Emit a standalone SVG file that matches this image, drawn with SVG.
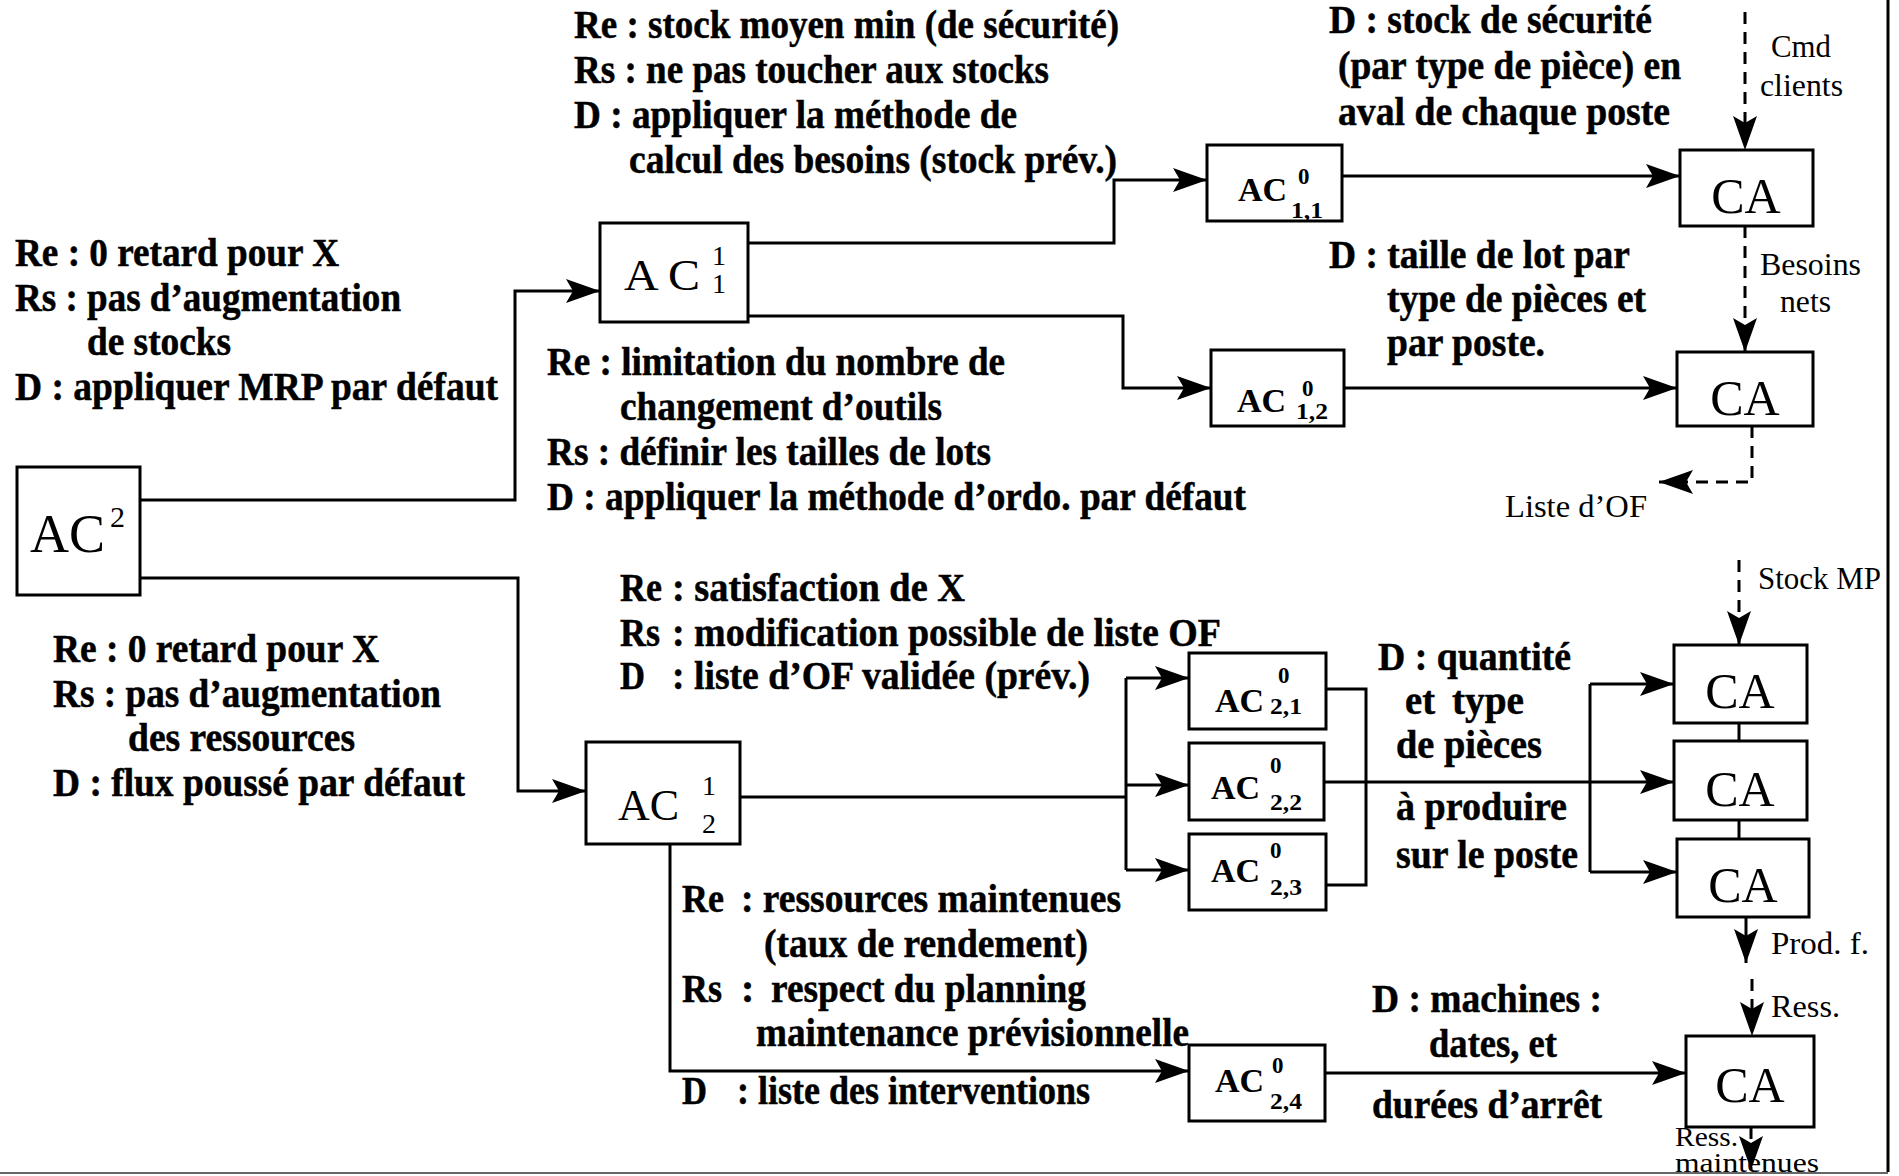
<svg xmlns="http://www.w3.org/2000/svg" width="1899" height="1176" viewBox="0 0 1899 1176">
<style>
.b{font-family:"Liberation Serif","Times New Roman",serif;font-weight:bold;font-size:40px;fill:#000;stroke:#000;stroke-width:0.5}
.r{font-family:"Liberation Serif","Times New Roman",serif;font-size:32px;fill:#000}
.box{fill:#fff;stroke:#000;stroke-width:3}
.ln{fill:none;stroke:#000;stroke-width:3}
.dash{stroke-dasharray:12 8}
.big{font-family:"Liberation Serif","Times New Roman",serif;font-size:50px;fill:#000}
.sm{font-family:"Liberation Serif","Times New Roman",serif;font-weight:bold;font-size:34px;fill:#000}
.idx{font-family:"Liberation Serif","Times New Roman",serif;font-weight:bold;font-size:23px;fill:#000}
</style>
<defs>
<marker id="ar" markerUnits="userSpaceOnUse" viewBox="0 0 34 24" refX="34" refY="12" markerWidth="34" markerHeight="24" orient="auto">
<path d="M0,0 L34,12 L0,24 L7,12 z" fill="#000"/>
</marker>
</defs>
<rect width="1899" height="1176" fill="#fff"/>
<line x1="1888" y1="0" x2="1888" y2="1172" stroke="#000" stroke-width="3"/>
<line x1="0" y1="1173" x2="1888" y2="1173" stroke="#666" stroke-width="2"/>

<g id="connectors">
<polyline class="ln" points="140,500 515,500 515,291 600,291" marker-end="url(#ar)"/>
<polyline class="ln" points="140,578 518,578 518,791 586,791" marker-end="url(#ar)"/>
<polyline class="ln" points="748,243 1114,243 1114,180 1207,180" marker-end="url(#ar)"/>
<polyline class="ln" points="748,316 1123,316 1123,388 1211,388" marker-end="url(#ar)"/>
<line class="ln" x1="1342" y1="176" x2="1680" y2="176" marker-end="url(#ar)"/>
<line class="ln" x1="1344" y1="388" x2="1677" y2="388" marker-end="url(#ar)"/>
<line class="ln" x1="740" y1="797" x2="1126" y2="797"/>
<line class="ln" x1="1126" y1="678" x2="1126" y2="870"/>
<line class="ln" x1="1126" y1="678" x2="1189" y2="678" marker-end="url(#ar)"/>
<line class="ln" x1="1126" y1="785" x2="1189" y2="785" marker-end="url(#ar)"/>
<line class="ln" x1="1126" y1="870" x2="1189" y2="870" marker-end="url(#ar)"/>
<polyline class="ln" points="670,844 670,1071 1189,1071" marker-end="url(#ar)"/>
<polyline class="ln" points="1326,689 1366,689 1366,885 1326,885"/>
<line class="ln" x1="1324" y1="782" x2="1590" y2="782"/>
<line class="ln" x1="1590" y1="684" x2="1590" y2="872"/>
<line class="ln" x1="1590" y1="684" x2="1674" y2="684" marker-end="url(#ar)"/>
<line class="ln" x1="1590" y1="782" x2="1674" y2="782" marker-end="url(#ar)"/>
<line class="ln" x1="1590" y1="872" x2="1677" y2="872" marker-end="url(#ar)"/>
<line class="ln" x1="1739" y1="723" x2="1739" y2="741"/>
<line class="ln" x1="1739" y1="820" x2="1739" y2="839"/>
<line class="ln" x1="1325" y1="1073" x2="1686" y2="1073" marker-end="url(#ar)"/>
<line class="ln dash" x1="1745" y1="12" x2="1745" y2="150" marker-end="url(#ar)"/>
<line class="ln dash" x1="1745" y1="226" x2="1745" y2="352" marker-end="url(#ar)"/>
<polyline class="ln dash" points="1752,426 1752,482 1659,482" marker-end="url(#ar)"/>
<line class="ln dash" x1="1739" y1="560" x2="1739" y2="645" marker-end="url(#ar)"/>
<line class="ln" x1="1746" y1="917" x2="1746" y2="963" marker-end="url(#ar)"/>
<line class="ln dash" x1="1752" y1="979" x2="1752" y2="1036" marker-end="url(#ar)"/>
<line class="ln dash" x1="1751" y1="1127" x2="1751" y2="1170" marker-end="url(#ar)"/>
</g>

<g id="AC2">
<rect class="box" x="17" y="467" width="123" height="128"/>
<text x="30" y="552" style="font-family:'Liberation Serif',serif;font-size:54px">AC</text>
<text x="110" y="527" style="font-family:'Liberation Serif',serif;font-size:30px">2</text>
</g>
<g id="AC11">
<rect class="box" x="600" y="223" width="148" height="99"/>
<text x="624" y="290" style="font-family:'Liberation Serif',serif;font-size:44px" textLength="76" lengthAdjust="spacingAndGlyphs">A C</text>
<text x="712" y="265" style="font-family:'Liberation Serif',serif;font-size:28px">1</text>
<text x="712" y="293" style="font-family:'Liberation Serif',serif;font-size:28px">1</text>
</g>
<g id="AC12">
<rect class="box" x="586" y="742" width="154" height="102"/>
<text x="618" y="820" style="font-family:'Liberation Serif',serif;font-size:44px">AC</text>
<text x="702" y="795" style="font-family:'Liberation Serif',serif;font-size:28px">1</text>
<text x="702" y="833" style="font-family:'Liberation Serif',serif;font-size:28px">2</text>
</g>
<g id="AC0_11">
<rect class="box" x="1207" y="145" width="135" height="76"/>
<text class="sm" x="1238" y="201">AC</text>
<text class="idx" x="1298" y="184">0</text>
<text class="idx" x="1291" y="218" textLength="32" lengthAdjust="spacingAndGlyphs">1,1</text>
</g>
<g id="AC0_12">
<rect class="box" x="1211" y="350" width="133" height="76"/>
<text class="sm" x="1237" y="412">AC</text>
<text class="idx" x="1302" y="396">0</text>
<text class="idx" x="1296" y="419" textLength="32" lengthAdjust="spacingAndGlyphs">1,2</text>
</g>
<g id="AC0_21">
<rect class="box" x="1189" y="653" width="137" height="76"/>
<text class="sm" x="1215" y="712">AC</text>
<text class="idx" x="1278" y="683">0</text>
<text class="idx" x="1270" y="714" textLength="32" lengthAdjust="spacingAndGlyphs">2,1</text>
</g>
<g id="AC0_22">
<rect class="box" x="1189" y="743" width="135" height="77"/>
<text class="sm" x="1211" y="799">AC</text>
<text class="idx" x="1270" y="773">0</text>
<text class="idx" x="1270" y="810" textLength="32" lengthAdjust="spacingAndGlyphs">2,2</text>
</g>
<g id="AC0_23">
<rect class="box" x="1189" y="834" width="137" height="76"/>
<text class="sm" x="1211" y="882">AC</text>
<text class="idx" x="1270" y="858">0</text>
<text class="idx" x="1270" y="895" textLength="32" lengthAdjust="spacingAndGlyphs">2,3</text>
</g>
<g id="AC0_24">
<rect class="box" x="1189" y="1045" width="136" height="76"/>
<text class="sm" x="1215" y="1092">AC</text>
<text class="idx" x="1272" y="1073">0</text>
<text class="idx" x="1270" y="1109" textLength="32" lengthAdjust="spacingAndGlyphs">2,4</text>
</g>
<g id="CA1"><rect class="box" x="1680" y="150" width="133" height="76"/><text class="big" x="1746" y="213" text-anchor="middle">CA</text></g>
<g id="CA2"><rect class="box" x="1677" y="352" width="136" height="74"/><text class="big" x="1745" y="415" text-anchor="middle">CA</text></g>
<g id="CA3"><rect class="box" x="1674" y="645" width="133" height="78"/><text class="big" x="1740" y="708" text-anchor="middle">CA</text></g>
<g id="CA4"><rect class="box" x="1674" y="741" width="133" height="79"/><text class="big" x="1740" y="806" text-anchor="middle">CA</text></g>
<g id="CA5"><rect class="box" x="1677" y="839" width="132" height="78"/><text class="big" x="1743" y="902" text-anchor="middle">CA</text></g>
<g id="CA6"><rect class="box" x="1686" y="1036" width="128" height="91"/><text class="big" x="1750" y="1102" text-anchor="middle">CA</text></g>

<g id="labels">
<text class="b" x="574" y="38" textLength="545" lengthAdjust="spacingAndGlyphs">Re : stock moyen min (de sécurité)</text>
<text class="b" x="574" y="83" textLength="475" lengthAdjust="spacingAndGlyphs">Rs : ne pas toucher aux stocks</text>
<text class="b" x="574" y="128" textLength="443" lengthAdjust="spacingAndGlyphs">D : appliquer la méthode de</text>
<text class="b" x="629" y="173" textLength="488" lengthAdjust="spacingAndGlyphs">calcul des besoins (stock prév.)</text>

<text class="b" x="15" y="266" textLength="324" lengthAdjust="spacingAndGlyphs">Re : 0 retard pour X</text>
<text class="b" x="15" y="311" textLength="386" lengthAdjust="spacingAndGlyphs">Rs : pas d’augmentation</text>
<text class="b" x="87" y="355" textLength="144" lengthAdjust="spacingAndGlyphs">de stocks</text>
<text class="b" x="15" y="400" textLength="483" lengthAdjust="spacingAndGlyphs">D : appliquer MRP par défaut</text>

<text class="b" x="547" y="375" textLength="458" lengthAdjust="spacingAndGlyphs">Re : limitation du nombre de</text>
<text class="b" x="620" y="420" textLength="322" lengthAdjust="spacingAndGlyphs">changement d’outils</text>
<text class="b" x="547" y="465" textLength="444" lengthAdjust="spacingAndGlyphs">Rs : définir les tailles de lots</text>
<text class="b" x="547" y="510" textLength="699" lengthAdjust="spacingAndGlyphs">D : appliquer la méthode d’ordo. par défaut</text>

<text class="b" x="1329" y="33" textLength="323" lengthAdjust="spacingAndGlyphs">D : stock de sécurité</text>
<text class="b" x="1338" y="79" textLength="343" lengthAdjust="spacingAndGlyphs">(par type de pièce) en</text>
<text class="b" x="1338" y="125" textLength="332" lengthAdjust="spacingAndGlyphs">aval de chaque poste</text>
<text class="b" x="1329" y="268" textLength="301" lengthAdjust="spacingAndGlyphs">D : taille de lot par</text>
<text class="b" x="1387" y="312" textLength="259" lengthAdjust="spacingAndGlyphs">type de pièces et</text>
<text class="b" x="1387" y="356" textLength="158" lengthAdjust="spacingAndGlyphs">par poste.</text>

<text class="r" x="1771" y="57" textLength="60" lengthAdjust="spacingAndGlyphs">Cmd</text>
<text class="r" x="1760" y="96" textLength="83" lengthAdjust="spacingAndGlyphs">clients</text>
<text class="r" x="1760" y="275" textLength="101" lengthAdjust="spacingAndGlyphs">Besoins</text>
<text class="r" x="1780" y="312" textLength="51" lengthAdjust="spacingAndGlyphs">nets</text>
<text class="r" x="1505" y="517" textLength="142" lengthAdjust="spacingAndGlyphs">Liste d’OF</text>
<text class="r" x="1758" y="589" textLength="123" lengthAdjust="spacingAndGlyphs">Stock MP</text>
<text class="r" x="1771" y="954" textLength="98" lengthAdjust="spacingAndGlyphs">Prod. f.</text>
<text class="r" x="1771" y="1017" textLength="69" lengthAdjust="spacingAndGlyphs">Ress.</text>
<text class="r" x="1675" y="1146" style="font-size:28px" textLength="63" lengthAdjust="spacingAndGlyphs">Ress.</text>
<text class="r" x="1675" y="1172" style="font-size:28px" textLength="144" lengthAdjust="spacingAndGlyphs">maintenues</text>

<text class="b" x="53" y="662" textLength="326" lengthAdjust="spacingAndGlyphs">Re : 0 retard pour X</text>
<text class="b" x="53" y="707" textLength="388" lengthAdjust="spacingAndGlyphs">Rs : pas d’augmentation</text>
<text class="b" x="128" y="751" textLength="227" lengthAdjust="spacingAndGlyphs">des ressources</text>
<text class="b" x="53" y="796" textLength="412" lengthAdjust="spacingAndGlyphs">D : flux poussé par défaut</text>

<text class="b" y="601"><tspan x="620" textLength="42" lengthAdjust="spacingAndGlyphs">Re</tspan><tspan x="672" textLength="293" lengthAdjust="spacingAndGlyphs">: satisfaction de X</tspan></text>
<text class="b" y="646"><tspan x="620" textLength="40" lengthAdjust="spacingAndGlyphs">Rs</tspan><tspan x="672" textLength="549" lengthAdjust="spacingAndGlyphs">: modification possible de liste OF</tspan></text>
<text class="b" y="689"><tspan x="620" textLength="25" lengthAdjust="spacingAndGlyphs">D</tspan><tspan x="672" textLength="418" lengthAdjust="spacingAndGlyphs">: liste d’OF validée (prév.)</tspan></text>

<text class="b" y="912"><tspan x="682" textLength="42" lengthAdjust="spacingAndGlyphs">Re</tspan><tspan x="741" textLength="380" lengthAdjust="spacingAndGlyphs">: ressources maintenues</tspan></text>
<text class="b" x="764" y="957" textLength="324" lengthAdjust="spacingAndGlyphs">(taux de rendement)</text>
<text class="b" y="1002"><tspan x="682" textLength="40" lengthAdjust="spacingAndGlyphs">Rs</tspan><tspan x="741">:</tspan><tspan x="771" textLength="315" lengthAdjust="spacingAndGlyphs">respect du planning</tspan></text>
<text class="b" x="756" y="1046" textLength="433" lengthAdjust="spacingAndGlyphs">maintenance prévisionnelle</text>
<text class="b" y="1104"><tspan x="682" textLength="25" lengthAdjust="spacingAndGlyphs">D</tspan><tspan x="737" textLength="353" lengthAdjust="spacingAndGlyphs">: liste des interventions</tspan></text>

<text class="b" x="1378" y="670" textLength="193" lengthAdjust="spacingAndGlyphs">D : quantité</text>
<text class="b" y="714"><tspan x="1405" textLength="30" lengthAdjust="spacingAndGlyphs">et</tspan><tspan x="1452" textLength="72" lengthAdjust="spacingAndGlyphs">type</tspan></text>
<text class="b" x="1396" y="758" textLength="146" lengthAdjust="spacingAndGlyphs">de pièces</text>
<text class="b" x="1396" y="820" textLength="171" lengthAdjust="spacingAndGlyphs">à produire</text>
<text class="b" x="1396" y="868" textLength="182" lengthAdjust="spacingAndGlyphs">sur le poste</text>

<text class="b" x="1372" y="1012" textLength="230" lengthAdjust="spacingAndGlyphs">D : machines :</text>
<text class="b" x="1429" y="1057" textLength="128" lengthAdjust="spacingAndGlyphs">dates, et</text>
<text class="b" x="1372" y="1118" textLength="230" lengthAdjust="spacingAndGlyphs">durées d’arrêt</text>
</g>
</svg>
